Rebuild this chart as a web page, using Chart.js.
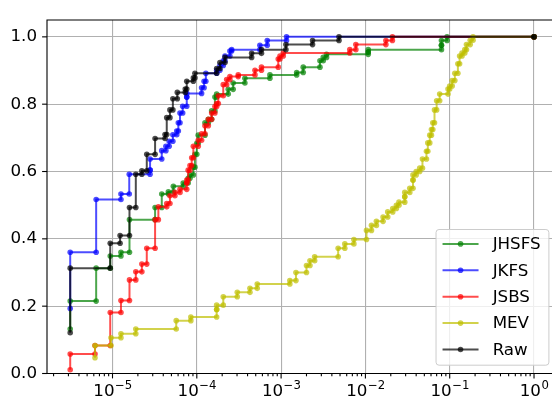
<!DOCTYPE html>
<html>
<head>
<meta charset="utf-8">
<script src="https://cdn.jsdelivr.net/npm/chart.js@4.4.0/dist/chart.umd.min.js"></script>
<style>
  html, body { margin: 0; padding: 0; background: #fff; overflow: hidden; }
</style>
</head>
<body>
<canvas id="chart" width="560" height="409"></canvas>
<script>
// Each series: x where a step happens, and the levels (levels[0] = where the first step starts)
const jhsfsX = [3.15e-6, 6.4e-6, 9.4e-6, 1.26e-5, 1.59e-5, 3.2e-5, 3.84e-5, 4.6e-5, 5.27e-5, 6.9e-5,
  7.9e-5, 8.3e-5, 9.1e-5, 9.5e-5, 1.0e-4, 1.04e-4, 1.25e-4, 1.37e-4, 1.5e-4, 1.64e-4,
  1.72e-4, 2.36e-4, 2.7e-4, 3.72e-4, 7.37e-4, 1.53e-3, 1.83e-3, 2.89e-3, 3.16e-3, 3.46e-3,
  1.08e-2, 1.08e-2, 7.98e-2, 7.98e-2, 9.3e-2, 1.0];
const jhsfsY = [0.132, 0.215, 0.313, 0.349, 0.36, 0.457, 0.493, 0.533, 0.54, 0.556,
  0.566, 0.58, 0.59, 0.613, 0.651, 0.684, 0.708, 0.745, 0.755, 0.78,
  0.821, 0.83, 0.844, 0.863, 0.877, 0.887, 0.894, 0.91, 0.929, 0.939,
  0.948, 0.955, 0.962, 0.975, 0.989, 1.0, 1.0];

const jkfsX = [3.15e-6, 6.4e-6, 1.26e-5, 1.58e-5, 2.79e-5, 2.79e-5, 3.84e-5, 4.3e-5, 4.7e-5, 5.2e-5,
  5.78e-5, 6.04e-5, 6.32e-5, 6.8e-5, 7.6e-5, 7.6e-5, 1.14e-4, 1.22e-4, 1.28e-4, 1.72e-4,
  1.88e-4, 2.06e-4, 2.16e-4, 2.47e-4, 2.59e-4, 5.6e-4, 6.85e-4, 1.16e-3, 1.0];
const jkfsY = [0.193, 0.36, 0.517, 0.533, 0.592, 0.604, 0.637, 0.662, 0.675, 0.69,
  0.709, 0.72, 0.745, 0.774, 0.794, 0.821, 0.832, 0.849, 0.868, 0.892,
  0.901, 0.915, 0.929, 0.943, 0.958, 0.962, 0.975, 0.989, 1.0, 1.0];

const jsbsX = [3.15e-6, 6.2e-6, 9.4e-6, 1.26e-5, 1.59e-5, 1.89e-5, 2.23e-5, 2.55e-5, 3.2e-5, 3.5e-5,
  4.4e-5, 4.8e-5, 5.5e-5, 6.32e-5, 7.6e-5, 7.6e-5, 7.9e-5, 8.3e-5, 8.7e-5, 9.1e-5,
  1.04e-4, 1.14e-4, 1.25e-4, 1.37e-4, 1.5e-4, 1.64e-4, 1.72e-4, 1.8e-4, 2.06e-4, 2.26e-4,
  2.47e-4, 3.1e-4, 4.9e-4, 5.85e-4, 9.25e-4, 9.7e-4, 1.06e-3, 6.53e-3, 7.7e-3, 1.75e-2,
  2.09e-2, 1.0];
const jsbsY = [0.011, 0.058, 0.083, 0.181, 0.217, 0.278, 0.302, 0.325, 0.372, 0.457,
  0.495, 0.505, 0.528, 0.538, 0.547, 0.566, 0.575, 0.604, 0.618, 0.641,
  0.675, 0.693, 0.712, 0.736, 0.755, 0.774, 0.793, 0.802, 0.825, 0.858,
  0.873, 0.882, 0.887, 0.901, 0.91, 0.934, 0.943, 0.952, 0.962, 0.977,
  0.989, 1.0, 1.0];

const mevX = [6.2e-6, 9.6e-6, 1.26e-5, 1.89e-5, 5.7e-5, 8.5e-5, 1.72e-4, 1.72e-4, 2.06e-4, 3.02e-4,
  4.27e-4, 5.21e-4, 1.27e-3, 1.5e-3, 2.0e-3, 2.2e-3, 2.5e-3, 4.75e-3, 5.7e-3, 7.3e-3,
  1.03e-2, 1.18e-2, 1.35e-2, 1.62e-2, 1.84e-2, 2.11e-2, 2.33e-2, 2.5e-2, 2.93e-2, 2.93e-2,
  3.36e-2, 3.67e-2, 3.67e-2, 4.0e-2, 4.41e-2, 4.75e-2, 5.3e-2, 5.5e-2, 5.8e-2, 6.07e-2,
  6.3e-2, 6.6e-2, 7.0e-2, 7.6e-2, 9.55e-2, 0.1, 0.107, 0.115, 0.125, 0.131,
  0.14, 0.151, 0.158, 0.175, 0.189, 1.0];
const mevY = [0.047, 0.083, 0.106, 0.118, 0.132, 0.157, 0.168, 0.19, 0.203, 0.228,
  0.241, 0.253, 0.266, 0.276, 0.30, 0.321, 0.335, 0.347, 0.372, 0.385,
  0.398, 0.425, 0.44, 0.452, 0.465, 0.48, 0.49, 0.50, 0.509, 0.525,
  0.538, 0.55, 0.575, 0.59, 0.60, 0.61, 0.637, 0.66, 0.685, 0.708,
  0.725, 0.745, 0.783, 0.81, 0.83, 0.845, 0.854, 0.87, 0.892, 0.92,
  0.943, 0.952, 0.962, 0.977, 0.99, 1.0, 1.0];

const rawX = [3.15e-6, 9.4e-6, 1.23e-5, 1.59e-5, 1.89e-5, 2.23e-5, 2.55e-5, 3.2e-5, 4.2e-5, 4.4e-5,
  4.8e-5, 5.2e-5, 5.87e-5, 7.3e-5, 7.6e-5, 9.1e-5, 9.5e-5, 1.72e-4, 1.88e-4, 2.16e-4,
  4.47e-4, 5.85e-4, 1.14e-3, 2.36e-3, 4.86e-3, 1.0];
const rawY = [0.121, 0.313, 0.387, 0.41, 0.493, 0.592, 0.602, 0.651, 0.698, 0.71,
  0.76, 0.783, 0.816, 0.835, 0.845, 0.868, 0.878, 0.892, 0.906, 0.924,
  0.939, 0.951, 0.962, 0.977, 0.989, 1.0, 1.0];

const xDecades = [-5, -4, -3, -2, -1, 0];
const yTicks = [0, 0.2, 0.4, 0.6, 0.8, 1.0];

const FONT = '"DejaVu Sans", sans-serif';
const FS = 16.7;

// a dot at the bottom and at the top of every riser
function stepPoints(xs, levels) {
  const pts = [];
  xs.forEach((x, i) => {
    pts.push({ x: x, y: levels[i] }, { x: x, y: levels[i + 1] });
  });
  return pts;
}

function series(label, xs, levels, rgb, order) {
  const c = `rgba(${rgb},0.7)`;
  return {
    label: label,
    data: stepPoints(xs, levels),
    borderColor: c,
    backgroundColor: c,
    borderWidth: 2,
    borderJoinStyle: 'round',
    pointRadius: 2.8,
    pointBorderWidth: 0,
    pointHoverRadius: 0,
    tension: 0,
    fill: false,
    order: order,
  };
}

const isDecade = v => {
  const e = Math.round(Math.log10(v));
  return Math.abs(v / Math.pow(10, e) - 1) < 1e-9;
};

// frame, tick marks and the 10^n labels (drawn like mathtext: smaller raised exponent)
const axesFrame = {
  id: 'axesFrame',
  afterDraw(chart) {
    const { ctx, chartArea: a, scales: { x, y } } = chart;
    ctx.save();
    ctx.strokeStyle = '#000';
    ctx.lineWidth = 1.1;
    x.ticks.forEach(t => {
      const px = x.getPixelForValue(t.value);
      ctx.beginPath();
      ctx.moveTo(px, a.bottom);
      ctx.lineTo(px, a.bottom + (t.major ? 4.9 : 2.8));
      ctx.stroke();
    });
    y.ticks.forEach(t => {
      const py = y.getPixelForValue(t.value);
      ctx.beginPath();
      ctx.moveTo(a.left - 4.9, py);
      ctx.lineTo(a.left, py);
      ctx.stroke();
    });
    ctx.beginPath();
    ctx.moveTo(a.right + 5, a.top);
    ctx.lineTo(a.left, a.top);
    ctx.lineTo(a.left, a.bottom);
    ctx.lineTo(a.right + 5, a.bottom);
    ctx.stroke();

    ctx.fillStyle = '#000';
    ctx.textAlign = 'left';
    ctx.textBaseline = 'alphabetic';
    const base = a.bottom + 22.5;
    xDecades.forEach(e => {
      const px = x.getPixelForValue(Math.pow(10, e));
      const expo = (e < 0 ? '\u2212' : '') + Math.abs(e);
      ctx.font = `${FS}px ${FONT}`;
      const w1 = ctx.measureText('10').width;
      ctx.font = `${FS * 0.7}px ${FONT}`;
      const w2 = ctx.measureText(expo).width;
      const x0 = px - (w1 + w2) / 2;
      ctx.font = `${FS}px ${FONT}`;
      ctx.fillText('10', x0, base);
      ctx.font = `${FS * 0.7}px ${FONT}`;
      ctx.fillText(expo, x0 + w1 + 0.5, base - 7);
    });
    ctx.restore();
  }
};

const boxLegend = {
  id: 'boxLegend',
  afterDraw(chart) {
    const { ctx, chartArea: a } = chart;
    const sets = chart.data.datasets;
    ctx.save();
    ctx.font = `${FS}px ${FONT}`;
    const textW = Math.max(...sets.map(d => ctx.measureText(d.label).width));
    const rowH = 26.4;
    const w = 56.6 + textW + 8.3;
    const h = 14.4 + rowH * (sets.length - 1) + 15.7;
    const right = a.right - 8.3;
    const bottom = a.bottom - 8.3;
    const left = right - w;
    const top = bottom - h;

    ctx.beginPath();
    ctx.roundRect(left, top, w, h, 3);
    ctx.fillStyle = 'rgba(255,255,255,0.8)';
    ctx.fill();
    ctx.strokeStyle = '#cccccc';
    ctx.lineWidth = 1;
    ctx.stroke();

    sets.forEach((d, i) => {
      const cy = top + 14.4 + i * rowH;
      ctx.strokeStyle = d.borderColor;
      ctx.lineWidth = d.borderWidth;
      ctx.beginPath();
      ctx.moveTo(left + 6.5, cy);
      ctx.lineTo(left + 42.5, cy);
      ctx.stroke();
      ctx.fillStyle = d.backgroundColor;
      ctx.beginPath();
      ctx.arc(left + 24.5, cy, d.pointRadius, 0, Math.PI * 2);
      ctx.fill();
      ctx.fillStyle = '#000';
      ctx.textAlign = 'left';
      ctx.textBaseline = 'middle';
      ctx.fillText(d.label, left + 56.6, cy + 1);
    });
    ctx.restore();
  }
};

const xMin = Math.pow(10, -5.777);
const xMax = Math.pow(10, 0.275);

new Chart(document.getElementById('chart'), {
  type: 'line',
  data: {
    datasets: [
      series('JHSFS', jhsfsX, jhsfsY, '0,128,0', 4),
      series('JKFS', jkfsX, jkfsY, '0,0,255', 3),
      series('JSBS', jsbsX, jsbsY, '255,0,0', 2),
      series('MEV', mevX, mevY, '191,191,0', 1),
      series('Raw', rawX, rawY, '0,0,0', 0),
    ],
  },
  options: {
    responsive: false,
    animation: false,
    devicePixelRatio: 1,
    layout: { padding: { top: 3, right: 2.5, left: 0, bottom: 0 } },
    plugins: {
      legend: { display: false },
      tooltip: { enabled: false },
    },
    scales: {
      x: {
        type: 'logarithmic',
        min: xMin,
        max: xMax,
        afterBuildTicks: scale => {
          const ticks = [];
          for (let e = xDecades[0] - 1; e <= xDecades[xDecades.length - 1]; e++) {
            for (let m = 1; m <= 9; m++) {
              const v = m * Math.pow(10, e);
              if (v >= xMin && v <= xMax) ticks.push({ value: v, major: m === 1 });
            }
          }
          scale.ticks = ticks;
        },
        afterFit: scale => { scale.height = 35.5; },
        ticks: {
          display: false,
          autoSkip: false,
          maxRotation: 0,
          minRotation: 0,
        },
        grid: {
          drawTicks: false,
          lineWidth: 1.1,
          color: c => (c.tick && isDecade(c.tick.value) ? '#b0b0b0' : 'rgba(0,0,0,0)'),
        },
        border: { display: false },
      },
      y: {
        type: 'linear',
        min: 0,
        max: 1.05,
        afterBuildTicks: scale => { scale.ticks = yTicks.map(v => ({ value: v })); },
        afterFit: scale => { scale.width = 47; },
        ticks: {
          padding: 10,
          color: '#000',
          font: { family: FONT, size: FS },
          callback: v => v.toFixed(1),
        },
        grid: {
          drawTicks: false,
          lineWidth: 1.1,
          color: '#b0b0b0',
        },
        border: { display: false },
      },
    },
  },
  plugins: [axesFrame, boxLegend],
});
</script>
</body>
</html>
